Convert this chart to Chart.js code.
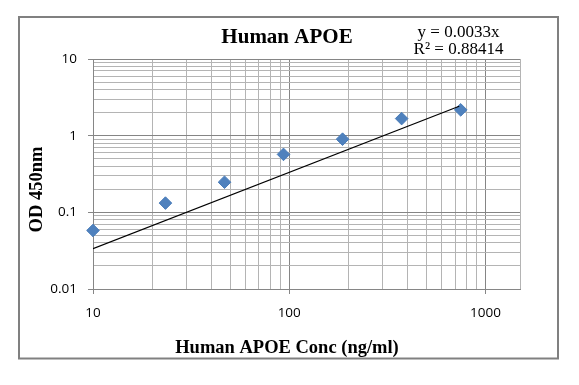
<!DOCTYPE html>
<html>
<head>
<meta charset="utf-8">
<script src="https://cdn.jsdelivr.net/npm/chart.js@4/dist/chart.umd.min.js"></script>
<style>
  body { margin: 0; background: #fff; }
</style>
</head>
<body>
<canvas id="graphCanvasApoe" width="579" height="385"></canvas>
<script>
// standard curve readings
var concValues = [10, 23.4, 46.8, 93.5, 187, 374, 748];
var odValues = [0.058, 0.132, 0.247, 0.57, 0.90, 1.67, 2.17];

// trendline as drawn (y = 0.0033x)
var trendX = [10, 735];
var trendY = [0.0335, 2.42];

// axis labels
var xTicks = [10, 100, 1000];
var yTicks = [0.01, 0.1, 1, 10];
var xMax = 1500;

var chartTitle = 'Human APOE';
var xTitle = 'Human APOE Conc (ng/ml)';
var yTitle = 'OD 450nm';
var eqLines = ['y = 0.0033x', 'R\u00b2 = 0.88414'];

var majorGrid = '#858585';
var minorGrid = '#b4b4b4';

showGraphApoe();

function showGraphApoe() {
    var points = [];
    for (var i in concValues) {
        points.push({ x: concValues[i], y: odValues[i] });
    }
    var trend = [];
    for (var j in trendX) {
        trend.push({ x: trendX[j], y: trendY[j] });
    }

    // log grid: every 1..9 inside each decade of the label list
    function logGrid(decades, extra) {
        return function(axis) {
            var t = [];
            for (var k = 0; k < decades.length - 1; k++) {
                for (var m = 1; m < 10; m++) {
                    t.push({ value: decades[k] * m });
                }
            }
            t.push({ value: decades[decades.length - 1] });
            if (extra) t.push({ value: extra });
            axis.ticks = t;
        };
    }

    function isLabel(list) {
        return function(ctx) {
            return list.indexOf(ctx.tick.value) >= 0;
        };
    }
    var xIsMajor = isLabel(xTicks);
    var yIsMajor = isLabel(yTicks);

    var decor = {
        id: 'decor',
        beforeDraw: function(chart) {
            var c = chart.ctx;
            c.save();
            c.fillStyle = '#fff';
            c.fillRect(0, 0, chart.width, chart.height);
            c.strokeStyle = '#808080';
            c.lineWidth = 2;
            c.strokeRect(19, 17, 539, 341.5);
            c.restore();
        },
        afterDraw: function(chart) {
            var c = chart.ctx;
            c.save();
            c.fillStyle = '#000';
            c.textAlign = 'center';
            c.textBaseline = 'alphabetic';

            c.font = 'bold 21px "Liberation Serif"';
            c.fillText(chartTitle, 287, 43);

            c.font = '17px "Liberation Serif"';
            c.fillText(eqLines[0], 458.5, 36.5);
            c.fillText(eqLines[1], 458.5, 54);

            c.font = 'bold 18.5px "Liberation Serif"';
            c.fillText(xTitle, 287, 353);

            c.translate(42, 189.5);
            c.rotate(-Math.PI / 2);
            c.fillText(yTitle, 0, 0);
            c.restore();
        }
    };

    var graphTarget = document.getElementById('graphCanvasApoe');

    var chart = new Chart(graphTarget, {
        type: 'scatter',
        data: {
            datasets: [{
                label: 'Trend',
                type: 'line',
                data: trend,
                borderColor: '#000',
                borderWidth: 1.2,
                pointRadius: 0,
                fill: false,
                order: 0
            }, {
                label: 'OD',
                data: points,
                pointStyle: 'rectRot',
                pointRadius: 6.3,
                backgroundColor: '#4f81bd',
                borderColor: '#4a7dba',
                borderWidth: 1,
                clip: false,
                order: 1
            }]
        },
        options: {
            responsive: false,
            animation: false,
            devicePixelRatio: 1,
            layout: { padding: { left: 0, right: 59, top: 59, bottom: 0 } },
            plugins: {
                legend: { display: false },
                tooltip: { enabled: false },
                title: { display: false }
            },
            scales: {
                x: {
                    type: 'logarithmic',
                    min: 10,
                    max: xMax,
                    afterBuildTicks: logGrid(xTicks, xMax),
                    afterFit: function(scale) { scale.height = 96; },
                    border: { display: true, color: '#868686', width: 1 },
                    grid: {
                        color: function(ctx) { return xIsMajor(ctx) ? majorGrid : minorGrid; },
                        tickColor: function(ctx) { return xIsMajor(ctx) ? '#868686' : 'rgba(0,0,0,0)'; },
                        tickLength: 5,
                        lineWidth: 1
                    },
                    ticks: {
                        autoSkip: false,
                        maxRotation: 0,
                        padding: 11,
                        color: '#000',
                        font: { family: '"Open Sans"', size: 13.5 },
                        callback: function(value) {
                            return xTicks.indexOf(value) >= 0 ? String(value) : '';
                        }
                    }
                },
                y: {
                    type: 'logarithmic',
                    min: 0.01,
                    max: 10,
                    afterBuildTicks: logGrid(yTicks),
                    afterFit: function(scale) { scale.width = 93; },
                    border: { display: true, color: '#868686', width: 1 },
                    grid: {
                        color: function(ctx) { return yIsMajor(ctx) ? majorGrid : minorGrid; },
                        tickColor: function(ctx) { return yIsMajor(ctx) ? '#868686' : 'rgba(0,0,0,0)'; },
                        tickLength: 5,
                        lineWidth: 1
                    },
                    ticks: {
                        autoSkip: false,
                        padding: 11,
                        color: '#000',
                        font: { family: '"Open Sans"', size: 13.5 },
                        callback: function(value) {
                            return yTicks.indexOf(value) >= 0 ? String(value) : '';
                        }
                    }
                }
            }
        },
        plugins: [decor]
    });
}
</script>
</body>
</html>
